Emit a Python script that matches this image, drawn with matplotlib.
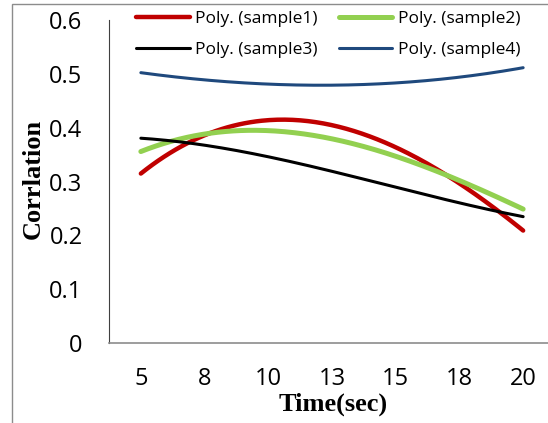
import numpy as np
import matplotlib
matplotlib.use("Agg")
import matplotlib.pyplot as plt
from matplotlib.patches import Rectangle

# category labels on the x axis (time in seconds)
times = ["5", "8", "10", "13", "15", "18", "20"]

# trendline values read at each category
sample1 = [0.318, 0.380, 0.411, 0.410, 0.375, 0.279, 0.215]
sample2 = [0.358, 0.383, 0.394, 0.386, 0.346, 0.297, 0.251]
sample3 = [0.381, 0.366, 0.346, 0.321, 0.288, 0.260, 0.235]
sample4 = [0.502, 0.489, 0.481, 0.479, 0.482, 0.495, 0.511]

names = ["Poly. (sample1)", "Poly. (sample2)", "Poly. (sample3)", "Poly. (sample4)"]
colors = ["#C00000", "#92D050", "#000000", "#1F497D"]
widths = [3.2, 3.6, 2.2, 2.2]
yticks = [0, 0.1, 0.2, 0.3, 0.4, 0.5, 0.6]


def main():
    W, H = 548, 423
    fig = plt.figure(figsize=(W / 100, H / 100), dpi=100)
    left, right, bottom, top = 109, 555, 343, 20
    ax = fig.add_axes([left / W, (H - bottom) / H, (right - left) / W, (bottom - top) / H])

    x = np.arange(len(times))
    xs = np.linspace(0, len(times) - 1, 200)
    handles = []
    for vals, name, c, lw in zip([sample1, sample2, sample3, sample4], names, colors, widths):
        p = np.polyfit(x, vals, 3)
        h, = ax.plot(xs, np.polyval(p, xs), color=c, lw=lw, label=name,
                     solid_capstyle="round")
        handles.append(h)

    ax.set_xlim(-0.5, len(times) - 0.5)
    ax.set_ylim(0, 0.6)
    ax.set_xticks(x)
    ax.set_xticklabels(times)
    ax.set_yticks(yticks)
    ax.set_yticklabels(["0" if v == 0 else f"{v:.1f}" for v in yticks])
    ax.tick_params(length=0, labelsize=17)
    ax.tick_params(axis="y", pad=19)
    ax.tick_params(axis="x", pad=17)
    for lab in ax.get_xticklabels() + ax.get_yticklabels():
        lab.set_family("Open Sans")

    for s in ["top", "right"]:
        ax.spines[s].set_visible(False)
    ax.spines["left"].set_color("#404040")
    ax.spines["bottom"].set_color("#8c8c8c")
    ax.spines["bottom"].set_linewidth(1.2)

    fig.text(333 / W, 1 - 404 / H, "Time(sec)", ha="center", va="center",
             family="Liberation Serif", weight="bold", fontsize=19)
    fig.text(33 / W, 1 - 179 / H, "Corrlation", ha="center", va="center",
             rotation=90, family="Liberation Serif", weight="bold", fontsize=19)

    # legend fills column by column, so reorder to get row order 1 2 / 3 4
    order = [handles[0], handles[2], handles[1], handles[3]]
    fig.legend(order, [h.get_label() for h in order], ncol=2,
               loc="upper left", bbox_to_anchor=(124 / W, 1 + 1 / H),
               frameon=False, prop={"family": "Open Sans", "size": 12.5},
               handlelength=3.1, handletextpad=0.3, columnspacing=1.2,
               labelspacing=0.85, borderpad=0.2)

    fig.add_artist(Rectangle((12 / W, -0.1), 1.2, (H - 4) / H + 0.1,
                             transform=fig.transFigure, fill=False,
                             edgecolor="#8c8c8c", lw=1.0))

    fig.savefig("out.png", dpi=100)


if __name__ == "__main__":
    main()
